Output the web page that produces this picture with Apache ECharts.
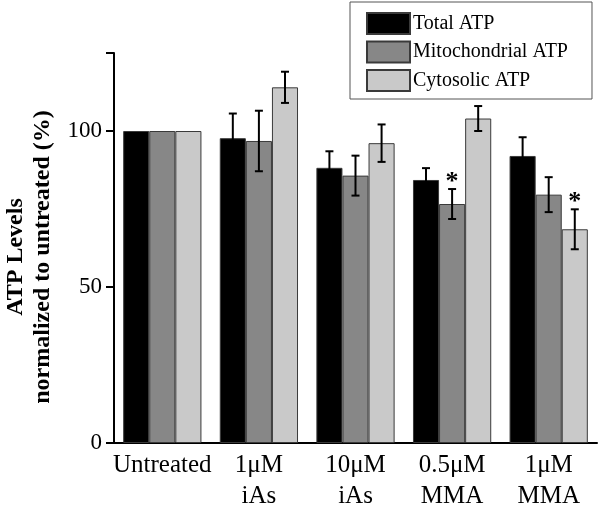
<!DOCTYPE html>
<html>
<head>
<meta charset="utf-8">
<script src="https://cdn.jsdelivr.net/npm/echarts@6/dist/echarts.min.js"></script>
<style>
html,body{margin:0;padding:0;background:#fff;}
#chart{width:600px;height:509px;}
</style>
</head>
<body>
<div id="chart"></div>
<script>
var categories = ['Untreated', '1\u03bcM\niAs', '10\u03bcM\niAs', '0.5\u03bcM\nMMA', '1\u03bcM\nMMA'];
var seriesNames = ['Total ATP', 'Mitochondrial ATP', 'Cytosolic ATP'];
var totalATP = [100, 97.7, 88.2, 84.3, 92.0];
var totalErr = [0, 7.9, 5.3, 3.8, 6.0];
var mitoATP = [100, 96.8, 85.7, 76.6, 79.6];
var mitoErr = [0, 9.7, 6.4, 4.8, 5.6];
var cytoATP = [100, 114.0, 96.1, 104.0, 68.5];
var cytoErr = [0, 5.0, 6.0, 4.0, 6.4];
var totalStars = ['', '', '', '', ''];
var mitoStars = ['', '', '', '*', ''];
var cytoStars = ['', '', '', '', '*'];
var yLabelValues = [0, 50, 100];
var yTickValues = [0, 50, 100, 125];

var FONT = "'Liberation Serif', 'Times New Roman', serif";
var GAP = 0.19;
var colors = ['#000000', '#878787', '#c9c9c9'];

function errRender(idx, stars) {
  return function (params, api) {
    var i = api.value(0), v = api.value(1), e = api.value(2);
    var catW = api.size([1, 0])[0];
    var bw = catW * (1 - GAP) / 3;
    var c = api.coord([i, v]);
    var x = c[0] + (idx - 1) * bw;
    var children = [];
    var topY = c[1];
    if (e > 0) {
      var t = api.coord([i, v + e])[1];
      var b = api.coord([i, v - e])[1];
      topY = t;
      var st = {stroke: '#000', lineWidth: 2};
      children.push({type: 'line', shape: {x1: x, y1: t, x2: x, y2: b}, style: st});
      children.push({type: 'line', shape: {x1: x - 4, y1: t, x2: x + 4, y2: t}, style: st});
      children.push({type: 'line', shape: {x1: x - 4, y1: b, x2: x + 4, y2: b}, style: st});
    }
    var s = stars[params.dataIndex];
    if (s) {
      children.push({type: 'text', style: {text: s, x: x, y: topY - 7, align: 'center', verticalAlign: 'middle',
        fill: '#000', font: 'bold 26px ' + FONT}});
    }
    return {type: 'group', children: children};
  };
}

function barSeries(name, vals, color) {
  return {
    name: name, type: 'bar', data: vals, barGap: '0%', barCategoryGap: (GAP * 100) + '%',
    itemStyle: {color: color, borderColor: '#3a3a3a', borderWidth: 1},
    emphasis: {disabled: true}
  };
}
function errSeries(idx, vals, errs, stars) {
  return {
    type: 'custom', renderItem: errRender(idx, stars), z: 10,
    data: vals.map(function (v, i) { return [i, v, errs[i]]; }),
    encode: {x: 0, y: 1}, silent: true
  };
}

var chart = echarts.init(document.getElementById('chart'), null, {renderer: 'canvas'});
chart.setOption({
  animation: false,
  backgroundColor: '#fff',
  grid: {left: 114, right: 3, top: 53, bottom: 66, containLabel: false, outerBoundsMode: 'none'},
  legend: {
    data: seriesNames, orient: 'vertical', left: 350, top: 2,
    padding: [10, 24, 7, 16], itemGap: 5.5, itemWidth: 43, itemHeight: 21,
    borderColor: '#555', borderWidth: 1, icon: 'rect',
    textStyle: {fontFamily: FONT, fontSize: 20, lineHeight: 21, color: '#000', padding: [0, 0, 0, -2]},
    selectedMode: false
  },
  xAxis: {
    type: 'category', data: categories,
    axisLine: {lineStyle: {color: '#000', width: 2}},
    axisTick: {show: false},
    axisLabel: {fontFamily: FONT, fontSize: 25, color: '#000', margin: 7, lineHeight: 31, interval: 0}
  },
  yAxis: {
    type: 'value', min: 0, max: 125, interval: 25,
    splitLine: {show: false},
    axisLine: {show: true, lineStyle: {color: '#000', width: 2}},
    axisTick: {show: true, length: 8, lineStyle: {color: '#000', width: 2}, customValues: yTickValues},
    axisLabel: {fontFamily: FONT, fontSize: 23, color: '#000', margin: 12, customValues: yLabelValues},
    name: 'ATP Levels\nnormalized to untreated (%)',
    nameLocation: 'middle', nameRotate: 90, nameGap: 57,
    nameTextStyle: {fontFamily: FONT, fontSize: 24, fontWeight: 'bold', color: '#000', lineHeight: 27, align: 'center',
      padding: [0, 18, 0, 0]}
  },
  series: [
    barSeries(seriesNames[0], totalATP, colors[0]),
    barSeries(seriesNames[1], mitoATP, colors[1]),
    barSeries(seriesNames[2], cytoATP, colors[2]),
    errSeries(0, totalATP, totalErr, totalStars),
    errSeries(1, mitoATP, mitoErr, mitoStars),
    errSeries(2, cytoATP, cytoErr, cytoStars)
  ]
});
</script>
</body>
</html>
